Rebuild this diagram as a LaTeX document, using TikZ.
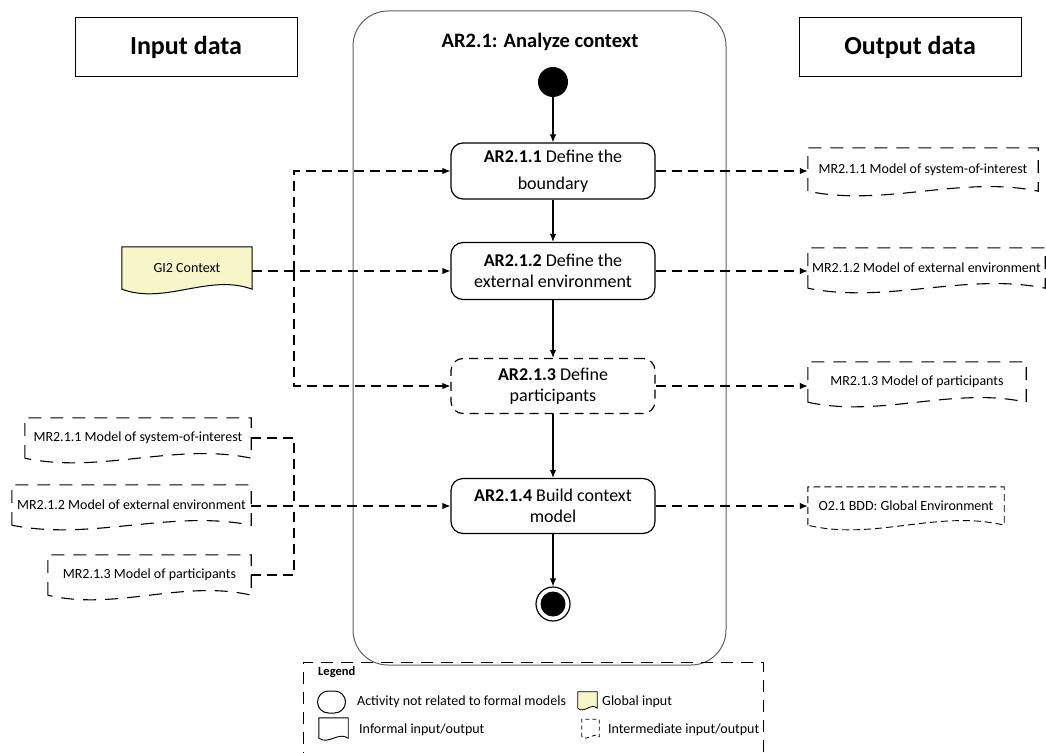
\documentclass[tikz,border=0pt]{standalone}
\usepackage{fontspec}
\setmainfont{Carlito}
\usetikzlibrary{arrows.meta,calc}
\pgfdeclarelayer{bg}
\pgfsetlayers{bg,main}
\definecolor{gifill}{RGB}{247,246,200}
\definecolor{framegray}{RGB}{95,95,95}
\newcommand\fs[2]{\fontsize{#1}{#2}\selectfont}
\newcommand\drawdoc[3][16]{\draw[#3] (#2.south west) -- (#2.north west) -- (#2.north east) -- (#2.south east) .. controls ($(#2.south east)!0.333!(#2.south west)+(0,-#1)$) and ($(#2.south east)!0.667!(#2.south west)+(0,#1)$) .. (#2.south west) -- cycle;}
\begin{document}
\begin{tikzpicture}[x=1pt,y=-1pt,
 act/.style={draw, rounded corners=12pt, minimum width=204pt, minimum height=56pt, align=center, inner sep=0pt, line width=1.2pt, font=\fs{18}{21}},
 flow/.style={-{Latex[length=8pt,width=6.5pt]}, line width=1.1pt},
 dline/.style={line width=1.1pt, dash pattern=on 10pt off 6pt},
 dflow/.style={dline, -{Latex[length=8pt,width=6.5pt]}},
 doc/.style={inner sep=0pt, font=\fs{14}{16}},
 docline/.style={line width=1.1pt, dash pattern=on 13pt off 9pt},
 hdr/.style={draw, line width=1pt, minimum width=222pt, minimum height=58pt, font=\fs{26}{30}\bfseries},
 legtext/.style={anchor=west, inner sep=0pt, font=\fs{14}{16}}
]
\useasboundingbox (0,0) rectangle (1046,752);

% headers
\node[hdr] (inp) at (186,47) {Input data};
\node[hdr] (outp) at (910,47) {Output data};

% container
\node[draw=framegray, line width=1pt, rounded corners=35pt, minimum width=373pt, minimum height=654pt, inner sep=0pt] (ctx) at (539.5,338) {};
\node[font=\fs{20.5}{24}\bfseries] (title) at (540,42) {AR2.1: Analyze context};

% activity nodes
\node[circle, fill, inner sep=0pt, minimum size=30pt] (init) at (553,82) {};
\node[act, font=\fs{18}{27}] (b1) at (553,171) {\textbf{AR2.1.1} Define the\\boundary};
\node[act, minimum height=57pt] (b2) at (553,271) {\textbf{AR2.1.2} Define the\\external environment};
\node[act, dash pattern=on 9pt off 6pt, minimum height=55pt] (b3) at (553,386) {\textbf{AR2.1.3} Define\\participants};
\node[act, minimum height=55pt] (b4) at (553,506) {\textbf{AR2.1.4} Build context\\model};
\node[circle, draw, line width=1.2pt, minimum size=34pt, inner sep=0pt,
  path picture={\fill (path picture bounding box.center) circle (12.5pt);}] (fin) at (553,604) {};

\draw[flow] (init) -- (b1);
\draw[flow] (b1) -- (b2);
\draw[flow] (b2) -- (b3);
\draw[flow] (b3) -- (b4);
\draw[flow] (b4) -- (fin);

% output documents
\node[doc, minimum width=230pt, minimum height=43pt] (o1) at (923,169.5) {MR2.1.1 Model of system-of-interest};
\node[doc, minimum width=237pt, minimum height=40pt] (o2) at (926.5,268) {MR2.1.2 Model of external environment};
\node[doc, minimum width=218pt, minimum height=40pt] (o3) at (917,382) {MR2.1.3 Model of participants};
\node[doc, minimum width=196pt, minimum height=38pt] (o4) at (906,506) {O2.1 BDD: Global Environment};

% input documents
\node[doc, minimum width=130pt, minimum height=42pt] (gi) at (187,268) {GI2 Context};
\node[doc, minimum width=226pt, minimum height=40pt] (i1) at (138,438) {MR2.1.1 Model of system-of-interest};
\node[doc, minimum width=239pt, minimum height=40pt] (i2) at (131.5,505) {MR2.1.2 Model of external environment};
\node[doc, minimum width=203pt, minimum height=40pt] (i3) at (149.5,575) {MR2.1.3 Model of participants};

% connectors left
\coordinate (j) at (294,271);
\draw[dflow] (gi.east |- b2.west) -- (b2.west);
\draw[dflow] (j) |- (b1.west);
\draw[dflow] (j) |- (b3.west);
\coordinate (k) at (294,506);
\draw[dflow] (i2.east |- b4.west) -- (b4.west);
\draw[dline] (i1.east) -| (k);
\draw[dline] (i3.east) -| (k);

% connectors right
\draw[dflow] (b1.east) -- (b1.east -| o1.west);
\draw[dflow] (b2.east) -- (b2.east -| o2.west);
\draw[dflow] (b3.east) -- (b3.east -| o3.west);
\draw[dflow] (b4.east) -- (b4.east -| o4.west);

% legend
\node[draw, line width=0.8pt, dash pattern=on 12pt off 8pt, minimum width=460pt, minimum height=110pt, inner sep=0pt, anchor=north west] (leg) at (303,662) {};
\node[font=\fs{12.5}{14}\bfseries, anchor=west, inner sep=0pt] (legt) at (318,672) {Legend};
\node[draw, rounded corners=11pt, minimum width=28pt, minimum height=22pt, line width=1pt, inner sep=0pt] (ls1) at (331.5,702) {};
\node[legtext] (lt1) at (357,702) {Activity not related to formal models};
\node[inner sep=0pt, minimum width=19pt, minimum height=16pt] (ls2) at (587.5,700) {};
\node[legtext] (lt2) at (602,702) {Global input};
\node[inner sep=0pt, minimum width=29pt, minimum height=20pt] (ls3) at (333.5,728) {};
\node[legtext] (lt3) at (359,730) {Informal input/output};
\node[inner sep=0pt, minimum width=17pt, minimum height=17pt] (ls4) at (590.5,728) {};
\node[legtext] (lt4) at (608,730) {Intermediate input/output};

\begin{pgfonlayer}{bg}
\drawdoc{o1}{docline}
\drawdoc{o2}{docline}
\drawdoc{o3}{docline}
\drawdoc{o4}{line width=0.9pt, dash pattern=on 7pt off 4pt}
\drawdoc{i1}{docline}
\drawdoc{i2}{docline}
\drawdoc{i3}{docline}
\drawdoc{gi}{fill=gifill, draw=black, line width=1pt}
\drawdoc[6]{ls2}{fill=gifill, draw=black, line width=0.8pt}
\drawdoc[7]{ls3}{line width=0.9pt}
\drawdoc[5]{ls4}{line width=0.8pt, dash pattern=on 4pt off 3pt}
\end{pgfonlayer}
\end{tikzpicture}
\end{document}
